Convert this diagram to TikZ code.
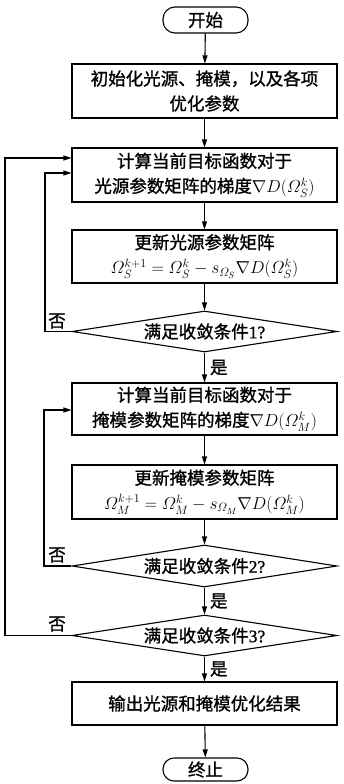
\documentclass[tikz,border=0pt]{standalone}
\usepackage{amsmath}
\usepackage[no-math]{fontspec}
\setmainfont{Noto Sans CJK SC}[FakeBold=1.2]
\newfontfamily\lat{Liberation Serif}[FakeBold=1.2]
\usetikzlibrary{shapes.geometric,arrows.meta}
\begin{document}
\begin{tikzpicture}[x=1pt,y=-1pt,
  every node/.style={font=\fontsize{17.5}{25}\selectfont, align=center, inner sep=0pt},
  procbox/.style={draw, line width=1.1pt, minimum width=265pt},
  termbox/.style={draw, line width=1.1pt, minimum width=85pt, rounded corners=12pt},
  decbox/.style={draw, line width=1.1pt, diamond, aspect=6.5, minimum width=265pt},
  arr/.style={line width=1.1pt, -{Triangle[length=8pt,width=5pt]}},
  lab/.style={font=\fontsize{17.5}{20}\selectfont}
]
\useasboundingbox (0,0) rectangle (344,784);
\node[termbox, minimum height=26pt] (start) at (205.5,20) {开始};
\node[procbox, minimum height=54pt] (init) at (204.5,91) {初始化光源、掩模，以及各项\\优化参数};
\node[procbox, minimum height=54pt] (grad1) at (204.5,175) {计算当前目标函数对于\\光源参数矩阵的梯度$\nabla D(\varOmega_S^k)$};
\node[procbox, minimum height=53pt] (upd1) at (204.5,256.5) {更新光源参数矩阵\\$\varOmega_S^{k+1}=\varOmega_S^k-s_{\varOmega_S}\nabla D(\varOmega_S^k)$};
\node[decbox, minimum height=41pt] (d1) at (204.5,331.5) {满足收敛条件{\lat 1?}};
\node[procbox, minimum height=52pt] (grad2) at (204.5,409) {计算当前目标函数对于\\掩模参数矩阵的梯度$\nabla D(\varOmega_M^k)$};
\node[procbox, minimum height=54pt] (upd2) at (204.5,492) {更新掩模参数矩阵\\$\varOmega_M^{k+1}=\varOmega_M^k-s_{\varOmega_M}\nabla D(\varOmega_M^k)$};
\node[decbox, minimum height=42pt] (d2) at (204.5,566) {满足收敛条件{\lat 2?}};
\node[decbox, minimum height=41pt] (d3) at (204.5,635.5) {满足收敛条件{\lat 3?}};
\node[procbox, minimum height=43pt] (out) at (204.5,703.5) {输出光源和掩模优化结果};
\node[termbox, minimum height=23pt, rounded corners=11pt] (end) at (205.5,769.5) {终止};

\draw[arr] (start) -- (init);
\draw[arr] (init) -- (grad1);
\draw[arr] (grad1) -- (upd1);
\draw[arr] (upd1) -- (d1);
\draw[arr] (d1) -- node[lab, right=5pt] (y1) {是} (grad2);
\draw[arr] (grad2) -- (upd2);
\draw[arr] (upd2) -- (d2);
\draw[arr] (d2) -- node[lab, right=5pt] (y2) {是} (d3);
\draw[arr] (d3) -- node[lab, right=5pt] (y3) {是} (out);
\draw[arr] (out) -- (end);

\coordinate (busO) at (5,158);
\coordinate (busI) at (45,173);
\coordinate (busI2) at (44,410);
\draw[arr] (d1.west) -| (busI) -- (grad1.west |- busI);
\draw[arr] (d2.west) -| (busI2) -- (grad2.west |- busI2);
\draw[arr] (d3.west) -| (busO) -- (grad1.west |- busO);

\node[lab] (n1) at (57,321) {否};
\node[lab] (n2) at (57,555) {否};
\node[lab] (n3) at (57,624) {否};
\end{tikzpicture}
\end{document}
